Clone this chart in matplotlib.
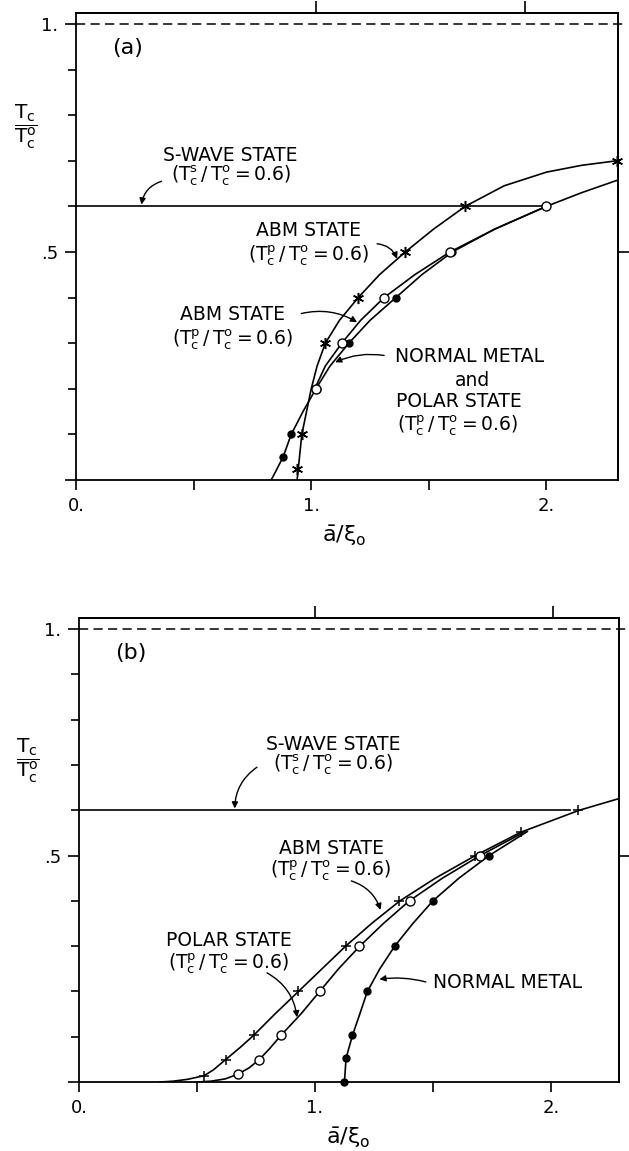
import numpy as np
import matplotlib
matplotlib.use("Agg")
import matplotlib.pyplot as plt
from matplotlib.ticker import FixedLocator, NullFormatter

plt.rcParams['font.family'] = 'DejaVu Sans'
plt.rcParams['mathtext.fontset'] = 'dejavusans'
plt.rcParams['mathtext.default'] = 'regular'

# ---- panel (a) data ----
a_swave_x = [0.0, 2.0]
a_swave_y = [0.6, 0.6]

a_star_line_x = [0.94, 0.95, 0.96, 0.98, 1.0, 1.025, 1.06, 1.12, 1.20, 1.29, 1.40, 1.52, 1.655, 1.82, 2.0, 2.15, 2.3]
a_star_line_y = [0.0, 0.05, 0.1, 0.15, 0.2, 0.25, 0.3, 0.35, 0.4, 0.45, 0.5, 0.55, 0.6, 0.645, 0.675, 0.69, 0.7]
a_star_x = [0.94, 0.96, 1.06, 1.20, 1.40, 1.655, 2.3]
a_star_y = [0.025, 0.1, 0.3, 0.4, 0.5, 0.6, 0.7]

a_open_line_x = [1.015, 1.06, 1.13, 1.21, 1.31, 1.44, 1.59, 1.78, 2.0, 2.15, 2.3]
a_open_line_y = [0.2, 0.25, 0.3, 0.35, 0.4, 0.45, 0.5, 0.55, 0.6, 0.63, 0.657]
a_open_x = [1.02, 1.13, 1.31, 1.59, 2.0]
a_open_y = [0.2, 0.3, 0.4, 0.5, 0.6]

a_fill_line_x = [0.83, 0.88, 0.915, 0.965, 1.02, 1.08, 1.16, 1.25, 1.36, 1.47, 1.60, 1.78, 2.0]
a_fill_line_y = [0.0, 0.05, 0.1, 0.15, 0.2, 0.25, 0.3, 0.35, 0.4, 0.45, 0.5, 0.55, 0.6]
a_fill_x = [0.878, 0.915, 1.025, 1.16, 1.36, 1.60]
a_fill_y = [0.05, 0.1, 0.2, 0.3, 0.4, 0.5]

a_top_ticks = [1.02, 1.91]

# ---- panel (b) data ----
b_swave_x = [0.0, 2.08]
b_swave_y = [0.6, 0.6]

b_plus_line_x = [0.34, 0.40, 0.46, 0.53, 0.57, 0.62, 0.68, 0.74, 0.83, 0.93, 1.03, 1.13, 1.24, 1.36, 1.51, 1.68, 1.87, 2.12, 2.29]
b_plus_line_y = [0.0, 0.002, 0.006, 0.014, 0.027, 0.049, 0.075, 0.103, 0.15, 0.2, 0.25, 0.3, 0.35, 0.4, 0.45, 0.5, 0.551, 0.6, 0.626]
b_plus_x = [0.53, 0.623, 0.74, 0.928, 1.132, 1.358, 1.678, 1.872, 2.116]
b_plus_y = [0.014, 0.049, 0.103, 0.2, 0.3, 0.4, 0.5, 0.551, 0.6]

b_open_line_x = [0.50, 0.56, 0.62, 0.672, 0.72, 0.763, 0.81, 0.856, 0.94, 1.02, 1.10, 1.19, 1.29, 1.40, 1.54, 1.70, 1.88]
b_open_line_y = [0.0, 0.002, 0.007, 0.017, 0.031, 0.049, 0.075, 0.103, 0.15, 0.2, 0.25, 0.3, 0.35, 0.4, 0.45, 0.5, 0.55]
b_open_x = [0.672, 0.763, 0.856, 1.021, 1.188, 1.404, 1.699]
b_open_y = [0.017, 0.049, 0.103, 0.2, 0.3, 0.4, 0.5]

b_fill_line_x = [1.125, 1.132, 1.159, 1.19, 1.222, 1.275, 1.338, 1.415, 1.50, 1.61, 1.738, 1.90]
b_fill_line_y = [0.0, 0.053, 0.103, 0.15, 0.2, 0.25, 0.3, 0.35, 0.4, 0.45, 0.5, 0.553]
b_fill_x = [1.125, 1.132, 1.159, 1.222, 1.338, 1.50, 1.738]
b_fill_y = [0.0, 0.053, 0.103, 0.2, 0.3, 0.4, 0.5]

b_top_ticks = [1.0, 2.01]

LW = 1.2
TXT = 13.5
ratio_s = r'$(T_c^s\,/\,T_c^o = 0.6)$'
ratio_p = r'$(T_c^p\,/\,T_c^o = 0.6)$'


def style_axes(ax, xmax, top_ticks, tag, ylab_y):
    ax.set_xlim(0, xmax)
    ax.set_ylim(0, 1.024)
    for sp in ax.spines.values():
        sp.set_linewidth(1.3)
    ax.xaxis.set_major_locator(FixedLocator([0, 1, 2]))
    ax.xaxis.set_minor_locator(FixedLocator([0.5, 1.5]))
    ax.set_xticklabels(['0.', '1.', '2.'])
    ax.yaxis.set_major_locator(FixedLocator([0, 0.5, 1.0]))
    ax.yaxis.set_minor_locator(FixedLocator([0.1, 0.2, 0.3, 0.4, 0.6, 0.7, 0.8, 0.9]))
    ax.set_yticklabels(['', '.5', '1.'])
    ax.tick_params(which='both', direction='out', width=1.2, labelsize=13)
    ax.tick_params(axis='x', which='both', length=7, pad=5)
    ax.tick_params(axis='y', which='major', length=8, pad=5)
    ax.tick_params(axis='y', which='minor', length=5.5)
    sy = ax.secondary_yaxis('right')
    sy.set_yticks([0.5])
    sy.yaxis.set_major_formatter(NullFormatter())
    sy.tick_params(direction='out', length=8, width=1.2)
    sy.spines['right'].set_linewidth(1.3)
    sx = ax.secondary_xaxis('top')
    sx.set_xticks(top_ticks)
    sx.xaxis.set_major_formatter(NullFormatter())
    sx.tick_params(direction='out', length=9, width=1.2)
    sx.spines['top'].set_linewidth(1.3)
    # dashed line at Tc/Tc0 = 1
    ax.plot([0, xmax + 0.03], [1.0, 1.0], color='k', lw=1.1, dashes=(6, 3.5), clip_on=False)
    ax.text(-0.215, ylab_y, r'$\dfrac{T_c}{T_c^o}$', fontsize=14.5, ha='center', va='center')
    ax.text(1.14, -0.123, r'$\bar{a}/\xi_o$', fontsize=16, ha='center', va='center')
    ax.text(0.22, 0.948, tag, fontsize=16, ha='center', va='center')


def arrow(ax, tail, head, rad):
    ax.annotate('', xy=head, xytext=tail,
                arrowprops=dict(arrowstyle='-|>', color='k', lw=1.0,
                                mutation_scale=9, shrinkA=0, shrinkB=0,
                                connectionstyle='arc3,rad=%s' % rad))


fig = plt.figure(figsize=(6.29, 11.51), dpi=100)

# ---------------- panel (a) ----------------
ax1 = fig.add_axes([0.121, 0.583, 0.862, 0.4057])
style_axes(ax1, 2.306, a_top_ticks, '(a)', 0.774)

ax1.plot(a_swave_x, a_swave_y, color='k', lw=LW)
ax1.plot(a_star_line_x, a_star_line_y, color='k', lw=LW)
ax1.plot(a_open_line_x, a_open_line_y, color='k', lw=LW)
ax1.plot(a_fill_line_x, a_fill_line_y, color='k', lw=LW)
ax1.plot(a_star_x, a_star_y, ls='none', marker=(6, 2, 0), ms=8, mec='k', mew=1.1, clip_on=False)
ax1.plot(a_fill_x, a_fill_y, ls='none', marker='o', ms=5, mfc='k', mec='k')
ax1.plot(a_open_x, a_open_y, ls='none', marker='o', ms=6.5, mfc='white', mec='k', mew=1.0)

ax1.text(0.655, 0.700, 'S-WAVE STATE', fontsize=TXT, ha='center', va='baseline')
ax1.text(0.66, 0.656, ratio_s, fontsize=TXT, ha='center', va='baseline')
arrow(ax1, (0.363, 0.655), (0.278, 0.604), 0.3)

ax1.text(0.99, 0.534, 'ABM STATE', fontsize=TXT, ha='center', va='baseline')
ax1.text(0.99, 0.481, ratio_p, fontsize=TXT, ha='center', va='baseline')
arrow(ax1, (1.28, 0.518), (1.365, 0.485), -0.3)

ax1.text(0.667, 0.351, 'ABM STATE', fontsize=TXT, ha='center', va='baseline')
ax1.text(0.667, 0.298, ratio_p, fontsize=TXT, ha='center', va='baseline')
arrow(ax1, (0.958, 0.365), (1.195, 0.346), -0.2)

ax1.text(1.674, 0.259, 'NORMAL METAL', fontsize=TXT, ha='center', va='baseline')
ax1.text(1.684, 0.207, 'and', fontsize=TXT, ha='center', va='baseline')
ax1.text(1.628, 0.159, 'POLAR STATE', fontsize=TXT, ha='center', va='baseline')
ax1.text(1.62, 0.108, ratio_p, fontsize=TXT, ha='center', va='baseline')
arrow(ax1, (1.31, 0.273), (1.102, 0.258), 0.15)

# ---------------- panel (b) ----------------
ax2 = fig.add_axes([0.1256, 0.0599, 0.859, 0.403])
style_axes(ax2, 2.29, b_top_ticks, '(b)', 0.71)

ax2.plot(b_swave_x, b_swave_y, color='k', lw=LW)
ax2.plot(b_plus_line_x, b_plus_line_y, color='k', lw=LW)
ax2.plot(b_open_line_x, b_open_line_y, color='k', lw=LW)
ax2.plot(b_fill_line_x, b_fill_line_y, color='k', lw=LW)
ax2.plot(b_plus_x, b_plus_y, ls='none', marker='+', ms=7, mec='k', mew=1.1)
ax2.plot(b_fill_x, b_fill_y, ls='none', marker='o', ms=5, mfc='k', mec='k', clip_on=False)
ax2.plot(b_open_x, b_open_y, ls='none', marker='o', ms=6.5, mfc='white', mec='k', mew=1.0)

ax2.text(1.077, 0.733, 'S-WAVE STATE', fontsize=TXT, ha='center', va='baseline')
ax2.text(1.077, 0.689, ratio_s, fontsize=TXT, ha='center', va='baseline')
arrow(ax2, (0.754, 0.695), (0.66, 0.604), 0.25)

ax2.text(1.069, 0.504, 'ABM STATE', fontsize=TXT, ha='center', va='baseline')
ax2.text(1.064, 0.456, ratio_p, fontsize=TXT, ha='center', va='baseline')
arrow(ax2, (1.154, 0.444), (1.278, 0.380), -0.25)

ax2.text(0.635, 0.301, 'POLAR STATE', fontsize=TXT, ha='center', va='baseline')
ax2.text(0.635, 0.251, ratio_p, fontsize=TXT, ha='center', va='baseline')
arrow(ax2, (0.797, 0.241), (0.924, 0.143), -0.25)

ax2.text(1.818, 0.207, 'NORMAL METAL', fontsize=TXT, ha='center', va='baseline')
arrow(ax2, (1.47, 0.221), (1.273, 0.227), 0.1)

fig.savefig('out.png', dpi=100)
